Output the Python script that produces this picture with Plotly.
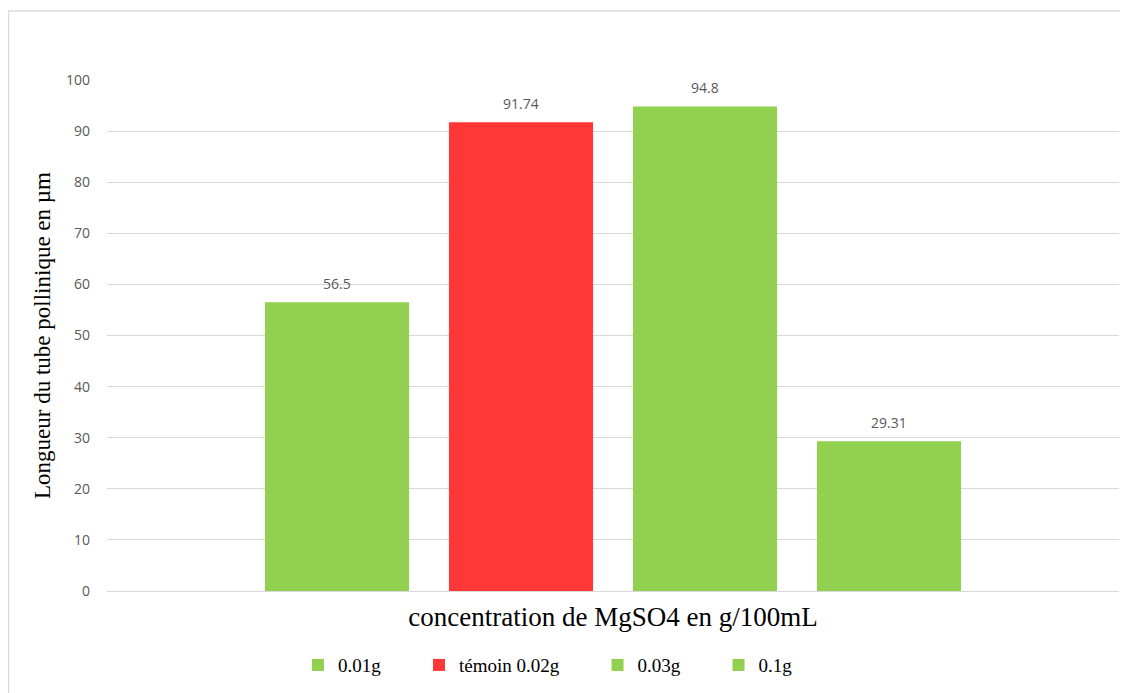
import plotly.graph_objects as go

series = ["0.01g", "témoin 0.02g", "0.03g", "0.1g"]
values = [56.5, 91.74, 94.8, 29.31]
labels = ["56.5", "91.74", "94.8", "29.31"]
colors = ["#92D050", "#FF3737", "#92D050", "#92D050"]
yticks = [0, 10, 20, 30, 40, 50, 60, 70, 80, 90, 100]

PAD = "\u00a0" * 7

fig = go.Figure()
for i, (s, v, c) in enumerate(zip(series, values, colors)):
    fig.add_trace(go.Bar(x=[s], y=[v], name=s + (PAD if i < len(series) - 1 else ""),
                         marker=dict(color=c, line=dict(width=0)), hoverinfo="y"))

for s, v, t in zip(series, values, labels):
    fig.add_annotation(x=s, y=v, text=t, showarrow=False, yshift=19, yanchor="middle",
                       font=dict(family="Open Sans", size=14, color="#595959"))

# page has 8px body margin: figure origin at (8, 8)
L, T, PW, PH = 99, 72, 1012, 511
fig.add_shape(type="rect", xref="paper", yref="paper",
              x0=(0.5 - L) / PW, x1=1.1, y0=-0.3, y1=(T + PH - 3) / PH,
              line=dict(color="#D9D9D9", width=1.5), fillcolor="rgba(0,0,0,0)", layer="below")

fig.update_layout(
    width=1120, height=685,
    margin=dict(l=L, r=1120 - L - PW, t=T, b=685 - T - PH, autoexpand=False),
    paper_bgcolor="white", plot_bgcolor="white",
    bargap=0.217,
    showlegend=True,
    legend=dict(orientation="h", x=(298 - 107) / PW, xanchor="left", y=-0.145, yanchor="middle",
                font=dict(family="Liberation Serif", size=19, color="#000000"),
                itemwidth=30, tracegroupgap=0),
    xaxis=dict(type="category", range=[-1.25, 4.25], showticklabels=False, showgrid=False,
               zeroline=False, showline=False, ticks="",
               title=dict(text="concentration de MgSO4 en g/100mL", standoff=16,
                          font=dict(family="Liberation Serif", size=27, color="#000000"))),
    yaxis=dict(range=[0, 100], tickvals=yticks, showgrid=True, gridcolor="#D9D9D9", gridwidth=1.3,
               zeroline=True, zerolinecolor="#D9D9D9", zerolinewidth=1.3, showline=False,
               ticks="", ticklabelstandoff=16,
               tickfont=dict(family="Open Sans", size=14, color="#595959"),
               title=dict(text="Longueur du tube pollinique en µm", standoff=8,
                          font=dict(family="Liberation Serif", size=23, color="#000000"))),
)

fig.write_html("out.html")
